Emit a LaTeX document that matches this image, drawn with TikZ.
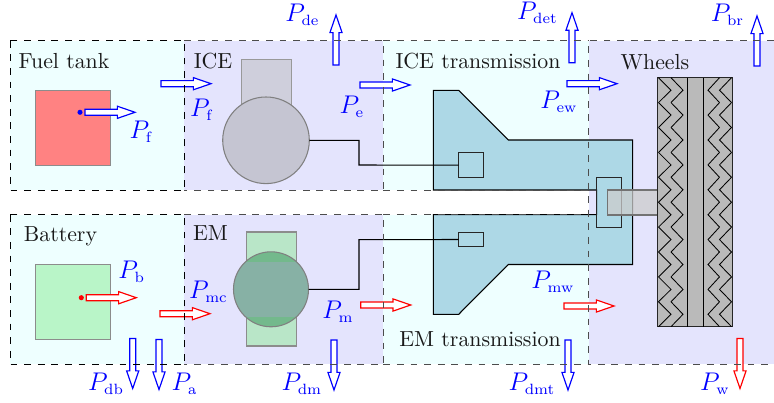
\documentclass[tikz,border=0pt]{standalone}
\usepackage{amsmath}
\usepackage{amssymb}
\usepackage{tikz}
\usetikzlibrary{calc,shapes.arrows}
\usepackage{color}
\DeclareMathSizes{12}{12}{7}{5}
\newcommand{\px}{0.47pt}
\definecolor{regioncyan}{RGB}{238,255,255}
\definecolor{regionblue}{RGB}{228,228,253}
\definecolor{gearblue}{RGB}{173,216,230}
\tikzset{
  regionbox/.style={rectangle, inner sep=0, outer sep=0, anchor=north west},
  regionedge/.style={dash pattern=on 3.2pt off 3.2pt, #1},
  regionlabel/.style={inner sep=0, text=black!90, font=\fontsize{10.25}{12}\selectfont},
  power/.style={single arrow, draw=#1, fill=white, line width=0.55pt, inner sep=1.15pt, %
                outer sep=0, single arrow head extend=1.43pt, single arrow tip angle=38, %
                minimum height=50*\px, anchor=tail},
  powerup/.style={power=blue, shape border rotate=90},
  powerdown/.style={power=#1, shape border rotate=270},
  powerlabel/.style={text=blue, inner sep=0, font=\fontsize{12}{14}\selectfont},
  gearbox/.style={rectangle, draw=black!85, inner sep=0, outer sep=0},
  partbox/.style={rectangle, draw=black!45, inner sep=0, outer sep=0},
  powerdot/.style={circle, fill=#1, inner sep=0, minimum size=2.4pt}
}
\begin{document}
\begin{tikzpicture}[x=\px, y=-\px, line width=0.5pt]
  \useasboundingbox (0,0) rectangle (774,403);
%
  \node[regionbox, fill=regioncyan, minimum width=174*\px, minimum height=149.5*\px] %
       (FuelRegion) at (10.3,40.7) {};
  \node[regionbox, fill=regionblue, minimum width=199*\px, minimum height=149.5*\px] %
       (ICERegion) at (FuelRegion.north east) {};
  \node[regionbox, fill=regioncyan, minimum width=205.5*\px, minimum height=149.5*\px] %
       (ICETransRegion) at (ICERegion.north east) {};
  \node[regionbox, fill=regionblue, minimum width=185*\px, minimum height=149.5*\px] %
       (WheelRegionTop) at (ICETransRegion.north east) {};
  \node[regionbox, fill=regioncyan, minimum width=174*\px, minimum height=149.5*\px] %
       (BatteryRegion) at (10.3,214.7) {};
  \node[regionbox, fill=regionblue, minimum width=199*\px, minimum height=149.5*\px] %
       (EMRegion) at (BatteryRegion.north east) {};
  \node[regionbox, fill=regioncyan, minimum width=205.5*\px, minimum height=149.5*\px] %
       (EMTransRegion) at (EMRegion.north east) {};
  \node[regionbox, fill=regionblue, minimum width=185*\px, minimum height=149.5*\px] %
       (WheelRegionBottom) at (EMTransRegion.north east) {};
  \fill[regionblue] (WheelRegionTop.south west) rectangle (WheelRegionBottom.north east);
%
  \node[partbox, fill={rgb,255:red,255;green,130;blue,130}, minimum size=75*\px] %
       (FuelTank) at (72.7,127.7) {};
  \node[partbox, fill={rgb,255:red,185;green,245;blue,200}, minimum size=75*\px] %
       (BatteryPack) at (72.7,301.8) {};
%
  \node[rectangle, fill={rgb,255:red,207;green,207;blue,220}, draw=black!40, inner sep=0, %
        outer sep=0, minimum width=50*\px, minimum height=50*\px] %
       (ICEHead) at (266.3,84.3) {};
  \node[circle, fill={rgb,255:red,197;green,197;blue,210}, draw=black!50, inner sep=0, %
        outer sep=0, minimum size=86.6*\px] (ICEBlock) at (266,140.3) {};
%
  \node[partbox, fill={rgb,255:red,185;green,230;blue,200}, minimum width=50*\px, %
        minimum height=114*\px] (EMStator) at (271.2,289) {};
  \fill[fill={rgb,255:red,115;green,185;blue,140}] (271,289.3) circle[radius=37.5];
  \begin{scope}
    \clip (271,289.3) circle[radius=37.5];
    \fill[fill={rgb,255:red,135;green,177;blue,165}] (230,261.7) rectangle (312,316.7);
  \end{scope}
  \node[circle, draw=black!50, inner sep=0, outer sep=0, minimum size=75*\px] %
       (EMRotor) at (271,289.3) {};
%
  \draw[draw=black, fill=gearblue] (433.3,90.3) -- (458.7,90.3) -- (508.3,140) -- (632.7,140) %
    -- (632.7,264.5) -- (508.3,264.5) -- (458.7,314.3) -- (433.3,314.3) -- (433.3,214.7) %
    -- (596.7,214.7) -- (596.7,190) -- (433.3,190) -- cycle;
  \node[gearbox, minimum size=25*\px] (ICEGear) at (471,165.2) {};
  \node[gearbox, minimum width=25*\px, minimum height=13.6*\px] (EMGear) at (471,239.5) {};
  \node[gearbox, minimum width=25*\px, minimum height=50*\px] (FinalGear) at (609.2,202.3) {};
  \node[rectangle, draw=black!55, fill=black!20, fill opacity=0.75, inner sep=0, outer sep=0, %
        minimum width=50.4*\px, minimum height=25*\px] (WheelShaft) at (632.5,202.5) {};
%
  \coordinate (ICEBend) at (359,165);
  \coordinate (EMBend) at (359,239.7);
  \draw (ICEBlock.east) -| (ICEBend) -- (ICEGear.west);
  \draw (EMRotor.east) -| (EMBend) -- (EMGear.west);
%
  \node[rectangle, draw=black!85, fill=black!27, inner sep=0, outer sep=0, minimum width=75*\px, %
        minimum height=249*\px] (WheelTyre) at (694.8,202.2) {};
  \draw (WheelTyre.north west -| 687.3,0) -- (WheelTyre.south west -| 687.3,0);
  \draw (WheelTyre.north west -| 703.3,0) -- (WheelTyre.south west -| 703.3,0);
  \foreach \i in {0,...,9} {
    \draw[line width=0.4pt] (658.5,77.7+24.9*\i) -- (671,90.2+24.9*\i) -- (658.5,102.6+24.9*\i);
    \draw[line width=0.4pt] (671,77.7+24.9*\i) -- (683,90.2+24.9*\i) -- (671,102.6+24.9*\i);
    \draw[line width=0.4pt] (719.5,77.7+24.9*\i) -- (708,90.2+24.9*\i) -- (719.5,102.6+24.9*\i);
    \draw[line width=0.4pt] (731.5,77.7+24.9*\i) -- (719.5,90.2+24.9*\i) -- (731.5,102.6+24.9*\i);
  }
%
  \node[powerdot=blue] (FuelDot) at (80,112.3) {};
  \node[powerdot=red] (BatteryDot) at (81.3,297.7) {};
  \node[power=blue] (ArrowPf) at (85,112.3) {};
  \node[power=blue] (ArrowPfICE) at (161,83.7) {};
  \node[power=blue] (ArrowPe) at (360,85) {};
  \node[power=blue] (ArrowPew) at (567,83.7) {};
  \node[power=red] (ArrowPb) at (86.3,297.7) {};
  \node[power=red] (ArrowPmc) at (160,313.7) {};
  \node[power=red] (ArrowPm) at (360.7,305) {};
  \node[power=red] (ArrowPmw) at (564,306) {};
  \node[powerup] (ArrowPde) at (336,65) {};
  \node[powerup] (ArrowPdet) at (572,62.7) {};
  \node[powerup] (ArrowPbr) at (757,66) {};
  \node[powerdown=blue] (ArrowPdb) at (132.7,338.5) {};
  \node[powerdown=blue] (ArrowPa) at (159,339.5) {};
  \node[powerdown=blue] (ArrowPdm) at (334,340) {};
  \node[powerdown=blue] (ArrowPdmt) at (568,340) {};
  \node[powerdown=red] (ArrowPw) at (740,338.5) {};
%
  \draw[regionedge=black] (FuelRegion.north west) rectangle (FuelRegion.south east);
  \draw[regionedge=black] (BatteryRegion.north west) rectangle (BatteryRegion.south east);
  \draw[regionedge=black!70] (ICERegion.north west) -- (ICERegion.north east) %
    -- (ICERegion.south east) -- (ICERegion.south west);
  \draw[regionedge=black!70] (EMRegion.north west) -- (EMRegion.north east) %
    -- (EMRegion.south east) -- (EMRegion.south west);
  \draw[regionedge=black!70] (ICETransRegion.north west) -- (ICETransRegion.north east);
  \draw[regionedge=black!70] (ICETransRegion.south west) -- (ICETransRegion.south east);
  \draw[regionedge=black!70] (EMTransRegion.north west) -- (EMTransRegion.north east);
  \draw[regionedge=black!70] (EMTransRegion.south west) -- (EMTransRegion.south east);
  \draw[regionedge=black!70] (WheelRegionTop.north east) -- (WheelRegionTop.north west) %
    -- (WheelRegionBottom.south west) -- (WheelRegionBottom.south east);
%
  \node[regionlabel] (FuelLabel) at (64,61) {Fuel tank};
  \node[regionlabel] (ICELabel) at (213,61) {ICE};
  \node[regionlabel] (ICETransLabel) at (478,61) {ICE transmission};
  \node[regionlabel] (WheelsLabel) at (655,62) {Wheels};
  \node[regionlabel] (BatteryLabel) at (60.5,236) {Battery};
  \node[regionlabel] (EMLabel) at (210.5,233) {EM};
  \node[regionlabel] (EMTransLabel) at (480,339) {EM transmission};
%
  \node[powerlabel] (LabelPf) at (141.5,132) {$P_{\mathrm{f}}$};
  \node[powerlabel] (LabelPfICE) at (202,110) {$P_{\mathrm{f}}$};
  \node[powerlabel] (LabelPe) at (352,107) {$P_{\mathrm{e}}$};
  \node[powerlabel] (LabelPde) at (302.5,15) {$P_{\mathrm{de}}$};
  \node[powerlabel] (LabelPdet) at (537.5,13) {$P_{\mathrm{det}}$};
  \node[powerlabel] (LabelPew) at (559,102) {$P_{\mathrm{ew}}$};
  \node[powerlabel] (LabelPbr) at (727.5,15) {$P_{\mathrm{br}}$};
  \node[powerlabel] (LabelPb) at (131.7,272) {$P_{\mathrm{b}}$};
  \node[powerlabel] (LabelPmc) at (208.5,292) {$P_{\mathrm{mc}}$};
  \node[powerlabel] (LabelPm) at (338,312) {$P_{\mathrm{m}}$};
  \node[powerlabel] (LabelPmw) at (553,282) {$P_{\mathrm{mw}}$};
  \node[powerlabel] (LabelPdb) at (106,384) {$P_{\mathrm{db}}$};
  \node[powerlabel] (LabelPa) at (184.5,384) {$P_{\mathrm{a}}$};
  \node[powerlabel] (LabelPdm) at (302,384) {$P_{\mathrm{dm}}$};
  \node[powerlabel] (LabelPdmt) at (532,384) {$P_{\mathrm{dmt}}$};
  \node[powerlabel] (LabelPw) at (715,384) {$P_{\mathrm{w}}$};
\end{tikzpicture}
\end{document}
